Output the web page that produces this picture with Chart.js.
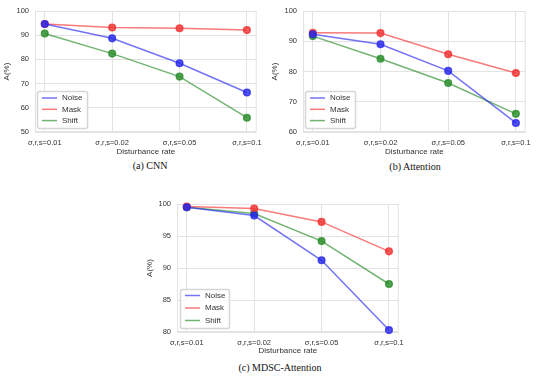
<!DOCTYPE html>
<html>
<head>
<meta charset="utf-8">
<script src="https://cdn.jsdelivr.net/npm/chart.js@4/dist/chart.umd.min.js"></script>
<style>
  body { margin: 0; background: #fff; }
  #wrap { position: relative; width: 537px; height: 378px; overflow: hidden; }
  canvas { position: absolute; }
  .cap { position: absolute; font-family: "Liberation Serif", "Times New Roman", serif;
         font-size: 10px; color: #111; text-align: center; line-height: 12px; white-space: nowrap; }
</style>
</head>
<body>
<div id="wrap">
  <canvas id="cnn" style="left:0;top:0;width:268px;height:157px"></canvas>
  <canvas id="att" style="left:268px;top:0;width:269px;height:157px"></canvas>
  <canvas id="mdsc" style="left:130px;top:185px;width:280px;height:171px"></canvas>
  <div class="cap" style="left:90px;top:160px;width:120px">(a) CNN</div>
  <div class="cap" style="left:355px;top:161px;width:120px">(b) Attention</div>
  <div class="cap" style="left:200px;top:362px;width:160px">(c) MDSC-Attention</div>
</div>
<script>
var rates = ['σ,r,s=0.01', 'σ,r,s=0.02', 'σ,r,s=0.05', 'σ,r,s=0.1'];

var cnnNoise = [94.6, 88.7, 78.4, 66.3];
var cnnMask  = [94.6, 93.2, 92.9, 92.1];
var cnnShift = [90.7, 82.4, 72.9, 55.9];
var cnnTicks = [50, 60, 70, 80, 90, 100];

var attNoise = [92.3, 89.0, 80.2, 63.0];
var attMask  = [92.8, 92.7, 85.7, 79.5];
var attShift = [91.7, 84.2, 76.2, 66.0];
var attTicks = [60, 70, 80, 90, 100];

var mdscNoise = [99.5, 98.2, 91.2, 80.3];
var mdscMask  = [99.6, 99.3, 97.2, 92.6];
var mdscShift = [99.5, 98.5, 94.2, 87.5];
var mdscTicks = [80, 85, 90, 95, 100];

var FONT = '"Liberation Sans", Arial, sans-serif';
var GRID = '#e3e3e3';
var TEXT = '#333333';

// frame round the plot area + legend box inside, lower left
var framePlugin = {
    id: 'frame',
    beforeDatasetsDraw: function (chart) {
        var a = chart.chartArea, ctx = chart.ctx;
        ctx.save();
        ctx.strokeStyle = GRID;
        ctx.lineWidth = 1;
        ctx.strokeRect(a.left + 0.5, a.top + 0.5, a.right - a.left - 1, a.bottom - a.top - 1);
        ctx.restore();
    },
    afterDraw: function (chart) {
        var opt = chart.options.plugins.frame;
        var a = chart.chartArea, ctx = chart.ctx;
        var x = a.left + opt.dx, y = a.bottom - opt.dy - opt.h;
        ctx.save();
        ctx.beginPath();
        ctx.roundRect(x + 0.5, y + 0.5, opt.w, opt.h, 2);
        ctx.fillStyle = 'rgba(255,255,255,0.85)';
        ctx.fill();
        ctx.strokeStyle = '#d6d6d6';
        ctx.stroke();
        ctx.font = '8px ' + FONT;
        ctx.textBaseline = 'middle';
        chart.data.datasets.forEach(function (ds, i) {
            var ly = y + opt.first + i * opt.gap;
            ctx.strokeStyle = ds.borderColor;
            ctx.lineWidth = 1.5;
            ctx.beginPath();
            ctx.moveTo(x + 5, ly);
            ctx.lineTo(x + 20, ly);
            ctx.stroke();
            ctx.fillStyle = TEXT;
            ctx.fillText(ds.label, x + 25, ly);
        });
        ctx.restore();
    }
};

function series(label, values, line, point) {
    return {
        label: label,
        data: values.map(function (v, i) { return { x: i, y: v }; }),
        borderColor: line,
        backgroundColor: point,
        pointBackgroundColor: point,
        pointBorderColor: point,
        borderWidth: 1.5,
        pointRadius: 3.3,
        pointHoverRadius: 3.3,
        clip: false
    };
}

function makeChart(id, noise, mask, shift, ticks, lay) {
    var ctx = document.getElementById(id).getContext('2d');
    return new Chart(ctx, {
        type: 'line',
        data: {
            datasets: [
                series('Noise', noise, 'rgba(40,40,240,0.65)', 'rgba(40,40,235,0.8)'),
                series('Mask', mask, 'rgba(245,50,50,0.65)', 'rgba(240,50,50,0.8)'),
                series('Shift', shift, 'rgba(40,140,40,0.65)', 'rgba(40,140,40,0.8)')
            ]
        },
        options: {
            responsive: false,
            animation: false,
            devicePixelRatio: 1,
            layout: { padding: { left: lay.left, right: lay.right, top: lay.top, bottom: 0 } },
            plugins: {
                legend: { display: false },
                tooltip: { enabled: false },
                frame: lay.legend
            },
            scales: {
                x: {
                    type: 'linear',
                    min: -0.145,
                    max: 3.145,
                    afterBuildTicks: function (s) {
                        s.ticks = rates.map(function (r, i) { return { value: i }; });
                    },
                    afterFit: function (s) { s.height = lay.xh; },
                    grid: { color: GRID, drawTicks: false },
                    border: { display: false },
                    ticks: {
                        padding: 6,
                        color: TEXT,
                        font: { family: FONT, size: 7.5 },
                        maxRotation: 0,
                        autoSkip: false,
                        callback: function (v) { return rates[v]; }
                    },
                    title: { display: true, text: 'Disturbance rate', color: TEXT,
                             padding: 0, font: { family: FONT, size: 8 } }
                },
                y: {
                    min: ticks[0],
                    max: ticks[ticks.length - 1],
                    afterBuildTicks: function (s) {
                        s.ticks = ticks.map(function (v) { return { value: v }; });
                    },
                    afterFit: function (s) { s.width = lay.yw; },
                    grid: { color: GRID, drawTicks: false },
                    border: { display: false },
                    ticks: { padding: 6, color: TEXT, font: { family: FONT, size: 7.5 } },
                    title: { display: true, text: 'A(%)', color: TEXT,
                             padding: 0, font: { family: FONT, size: 8 } }
                }
            }
        },
        plugins: [framePlugin]
    });
}

var topLay = { left: 2, yw: 33, right: 8, top: 11, xh: 25,
               legend: { dx: 2, dy: 4, w: 50, h: 37, first: 7, gap: 11.3 } };

makeChart('cnn', cnnNoise, cnnMask, cnnShift, cnnTicks, topLay);
makeChart('att', attNoise, attMask, attShift, attTicks,
          Object.assign({}, topLay, { right: 9 }));
makeChart('mdsc', mdscNoise, mdscMask, mdscShift, mdscTicks,
          { left: 15, yw: 32, right: 7, top: 19, xh: 24,
            legend: { dx: 3, dy: 4, w: 49, h: 39, first: 6.5, gap: 12.5 } });
</script>
</body>
</html>
